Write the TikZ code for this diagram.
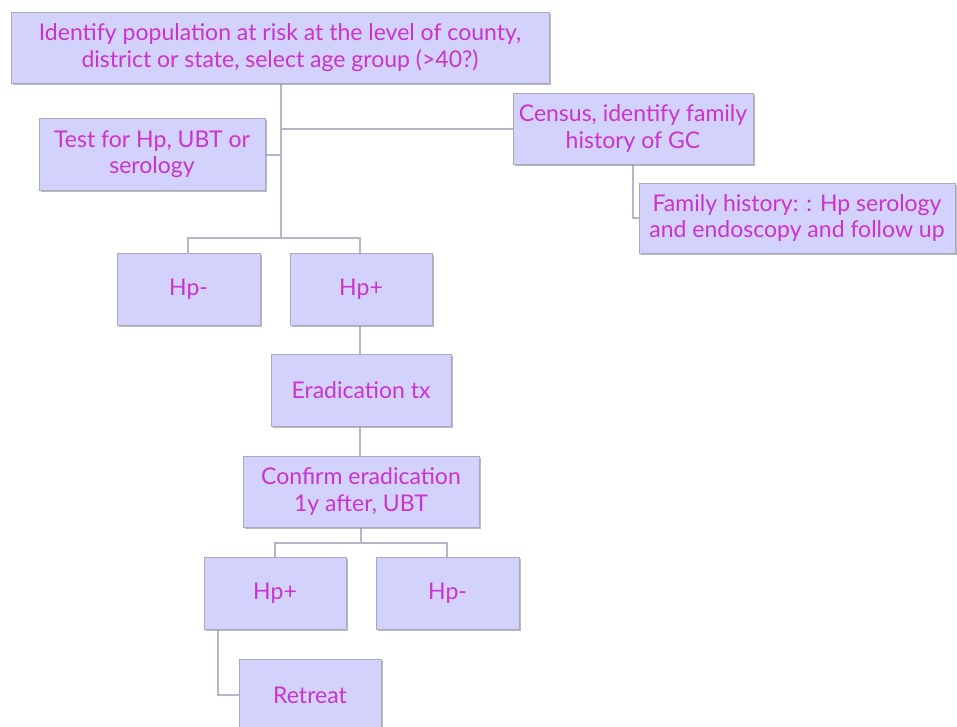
\documentclass[tikz,border=0pt]{standalone}
\usepackage{fontspec}
\setmainfont{Lato}
\usetikzlibrary{shadows}
\definecolor{boxfill}{RGB}{210,210,252}
\definecolor{boxline}{RGB}{170,170,190}
\definecolor{linkc}{RGB}{182,182,202}
\definecolor{txt}{RGB}{204,50,204}
\tikzset{
  bx/.style={draw=boxline, line width=0.8pt, fill=boxfill, text=txt, align=center,
    font=\fontsize{23}{26.5}\selectfont, inner sep=0pt,
    drop shadow={shadow xshift=1.5pt, shadow yshift=-2pt, fill=black!45, opacity=0.6}},
  lk/.style={draw=linkc, line width=1.3pt}
}
\newcommand{\bxat}[6]{\node[bx, minimum width=#4pt, minimum height=#5pt] (#1) at (#2,#3) {#6};}
\begin{document}
\begin{tikzpicture}[x=1pt,y=-1pt]
\useasboundingbox (0,0) rectangle (957,726);
% connectors first
\coordinate (j1) at (281,238);
\coordinate (c1) at (281,155);
\coordinate (c2) at (281,129);
\coordinate (d1) at (188,238);
\coordinate (d2) at (360,238);
\coordinate (e0) at (361,543);
\coordinate (e1) at (275,543);
\coordinate (e2) at (447,543);
\coordinate (f1) at (218,695);
\coordinate (g1) at (633,218);
\draw[lk] (281,83) -- (j1);
\draw[lk] (c1) -- (265,155);
\draw[lk] (c2) -- (513,129);
\draw[lk] (188,253) -- (d1) -- (d2) -- (360,253);
\draw[lk] (360,325) -- (360,354);
\draw[lk] (360,426) -- (360,456);
\draw[lk] (361,527) -- (e0);
\draw[lk] (275,557) -- (e1) -- (e2) -- (447,557);
\draw[lk] (218,629) -- (f1) -- (239,695);
\draw[lk] (633,164) -- (g1) -- (639,218);
% boxes
\bxat{top}{280}{47.5}{538}{71}{Identify population at risk at the level of county,\\district or state, select age group (>40?)}
\bxat{test}{152}{154}{226}{72}{Test for Hp, UBT or\\serology}
\bxat{census}{633}{128.5}{240}{71}{Census, identify family\\history of GC}
\bxat{fam}{797}{218}{316}{70}{Family history: : Hp serology\\and endoscopy and follow up}
\bxat{hpm}{188.5}{289}{143}{72}{Hp-}
\bxat{hpp}{361}{289}{142}{72}{Hp+}
\bxat{erad}{361}{390}{180}{72}{Eradication tx}
\bxat{conf}{361}{491.5}{236}{71}{Confirm eradication\\1y after, UBT}
\bxat{hpp2}{275}{593}{142}{72}{Hp+}
\bxat{hpm2}{447.5}{593}{143}{72}{Hp-}
\bxat{ret}{310}{695}{142}{72}{Retreat}
\end{tikzpicture}
\end{document}
